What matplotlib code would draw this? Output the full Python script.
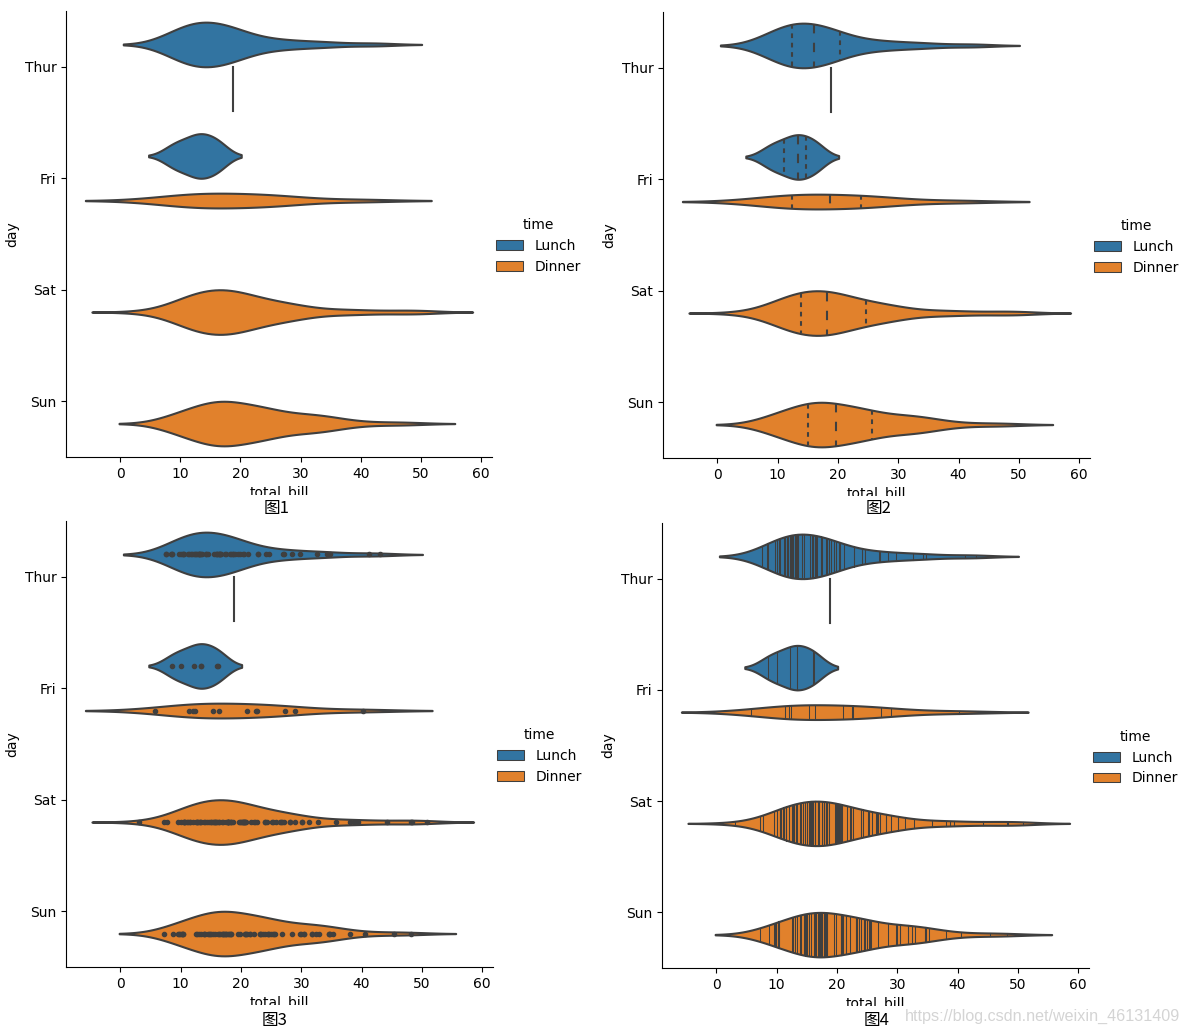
import numpy as np
import matplotlib
matplotlib.use("Agg")
import matplotlib.pyplot as plt
from matplotlib.patches import Rectangle
import colorsys

# ---------------- data (tips: total_bill by day / time) ----------------
days = ["Thur", "Fri", "Sat", "Sun"]
times = ["Lunch", "Dinner"]

thur_lunch = [27.20, 22.76, 17.29, 19.44, 16.66, 10.07, 32.68, 15.98, 34.83, 13.03, 18.28, 24.71, 21.16,
              10.65, 12.43, 24.08, 11.69, 13.42, 14.26, 15.95, 12.48, 29.80, 8.52, 14.52, 11.38, 22.82,
              19.08, 20.27, 11.17, 12.26, 18.26, 8.51, 10.33, 14.15, 16.00, 13.16, 17.47, 34.30, 41.19,
              27.05, 16.43, 8.35, 18.64, 11.87, 9.78, 7.51,
              19.81, 28.44, 15.48, 16.58, 7.56, 10.34, 43.11, 13.00, 13.51, 18.71, 12.74, 13.00, 16.40,
              20.53, 16.47]
thur_dinner = [18.78]
fri_lunch = [12.16, 13.42, 8.58, 15.98, 13.42, 16.27, 10.09]
fri_dinner = [28.97, 22.49, 5.75, 16.32, 22.75, 40.17, 27.28, 12.03, 21.01, 12.46, 11.35, 15.38]
sat_dinner = [20.65, 17.92, 20.29, 15.77, 39.42, 19.82, 17.81, 13.37, 12.69, 21.70, 19.65, 9.55, 18.35,
              15.06, 20.69, 17.78, 24.06, 16.31, 16.93, 18.69, 31.27, 16.04,
              38.01, 26.41, 11.24, 48.27, 20.29, 13.81, 11.02, 18.29, 17.59, 20.08, 16.45, 3.07, 20.23,
              15.01, 12.02, 17.07, 26.86, 25.28, 14.73, 10.51, 17.92,
              44.30, 22.42, 20.92, 15.36, 20.49, 25.21, 18.24, 14.31, 14.00, 7.25,
              10.59, 10.63, 50.81, 15.81,
              26.59, 38.73, 24.27, 12.76, 30.06, 25.89, 48.33, 13.27, 28.17, 12.90, 28.15, 11.59, 7.74,
              30.14,
              20.45, 13.28, 22.12, 24.01, 15.69, 11.61, 10.77, 15.53, 10.07, 12.60, 32.83, 35.83, 29.03,
              27.18, 22.67, 17.82]
sun_dinner = [16.99, 10.34, 21.01, 23.68, 24.59, 25.29, 8.77, 26.88, 15.04, 14.78, 10.27, 35.26, 15.42,
              18.43, 14.83, 21.58, 10.33, 16.29, 16.97,
              17.46, 13.94, 9.68, 30.40, 18.29, 22.23, 32.40, 28.55, 18.04, 12.54, 10.29, 34.81, 9.94,
              25.56, 19.49,
              38.07, 23.95, 25.71, 17.31, 29.93,
              14.07, 13.13, 17.26, 24.55, 19.77, 29.85, 48.17, 25.00, 13.39, 16.49, 21.50, 12.66, 16.21,
              13.81, 17.51, 24.52, 20.76, 31.71,
              7.25, 31.85, 16.82, 32.90, 17.89, 14.48, 9.60, 34.63, 34.65, 23.33, 45.35, 23.17, 40.55,
              20.69, 20.90, 30.46, 18.15, 23.10, 15.69]

groups = {
    "Thur": {"Lunch": thur_lunch, "Dinner": thur_dinner},
    "Fri": {"Lunch": fri_lunch, "Dinner": fri_dinner},
    "Sat": {"Lunch": [], "Dinner": sat_dinner},
    "Sun": {"Lunch": [], "Dinner": sun_dinner},
}
inner_modes = [None, "quartile", "point", "stick"]
captions = ["图1", "图2", "图3", "图4"]

# ---------------- style ----------------
def desat(c, prop=0.75):
    r, g, b = matplotlib.colors.to_rgb(c)
    h, l, s = colorsys.rgb_to_hls(r, g, b)
    return colorsys.hls_to_rgb(h, l, s * prop)

colors = [desat("#1f77b4"), desat("#ff7f0e")]
lum = min(colorsys.rgb_to_hls(*c)[1] for c in colors)
gray = matplotlib.colors.rgb2hex((lum * 0.6,) * 3)
LW = 1.5
DW = 0.2
offsets = [-0.2, 0.2]


def kde(data, gridsize=100, cut=2):
    x = np.asarray(data, float)
    n = len(x)
    h = x.std(ddof=1) * n ** (-0.2)
    sup = np.linspace(x.min() - cut * h, x.max() + cut * h, gridsize)
    dens = np.exp(-0.5 * ((sup[:, None] - x[None, :]) / h) ** 2).sum(1) / (n * h * np.sqrt(2 * np.pi))
    return sup, dens


def draw_to_density(ax, center, val, sup, dens, **kw):
    idx = np.argmin(np.abs(sup - val))
    w = DW * dens[idx] * 0.99
    ax.plot([val, val], [center - w, center + w], color=gray, **kw)


def violin(ax, inner):
    for i, day in enumerate(days):
        est = {}
        for t in times:
            d = groups[day][t]
            if len(d) > 1:
                est[t] = kde(d)
        mx = max(v[1].max() for v in est.values())
        for j, t in enumerate(times):
            d = groups[day][t]
            if len(d) == 0:
                continue
            c = i + offsets[j]
            if len(d) == 1:
                ax.plot([d[0], d[0]], [c - DW, c + DW], color=gray, linewidth=LW)
                continue
            sup, dens = est[t]
            dens = dens / mx
            ax.fill_between(sup, c - dens * DW, c + dens * DW, facecolor=colors[j],
                            edgecolor=gray, linewidth=LW)
            arr = np.asarray(d)
            if inner == "quartile":
                q25, q50, q75 = np.percentile(arr, [25, 50, 75])
                draw_to_density(ax, c, q25, sup, dens, linewidth=LW, dashes=[LW * 1.5] * 2)
                draw_to_density(ax, c, q50, sup, dens, linewidth=LW, dashes=[LW * 3] * 2)
                draw_to_density(ax, c, q75, sup, dens, linewidth=LW, dashes=[LW * 1.5] * 2)
            elif inner == "point":
                ax.scatter(arr, np.ones(len(arr)) * c, s=(LW * 2) ** 2, color=gray, edgecolor=gray)
            elif inner == "stick":
                for v in arr:
                    draw_to_density(ax, c, v, sup, dens, linewidth=LW * 0.5)
    ax.set_yticks(range(len(days)))
    ax.set_yticklabels(days)
    ax.set_ylim(len(days) - 0.5, -0.5)
    ax.set_xticks([0, 10, 20, 30, 40, 50, 60])
    ax.set_xlabel("total_bill")
    ax.set_ylabel("day")
    ax.spines["top"].set_visible(False)
    ax.spines["right"].set_visible(False)
    handles = [Rectangle((0, 0), 0, 0, linewidth=LW / 2, edgecolor=gray, facecolor=colors[k], label=t)
               for k, t in enumerate(times)]
    ax.legend(handles=handles, title="time", frameon=False, loc="center left",
              bbox_to_anchor=(0.979, 0.473))


W, H = 1188, 1033
fig = plt.figure(figsize=(W / 100, H / 100), dpi=100)
boxes = [(66, 11, 492, 457), (663, 12, 1090, 458), (66, 521, 493, 967), (662, 523, 1089, 968)]
cap_pos = [(277, 509), (879, 509), (275, 1020), (877, 1020)]
cut_y = [495, 496, 1005, 1006]
for k in range(4):
    l, t, r, b = boxes[k]
    ax = fig.add_axes([l / W, 1 - b / H, (r - l) / W, (b - t) / H])
    violin(ax, inner_modes[k])
    # white band that clips the lower part of the x label, as in the reference
    x0 = 0 if k % 2 == 0 else 600
    fig.add_artist(Rectangle((x0 / W, 1 - (cut_y[k] + 24) / H), 590 / W, 24 / H,
                             transform=fig.transFigure, facecolor="white", edgecolor="none",
                             zorder=5))
    cx, cy = cap_pos[k]
    fig.text(cx / W, 1 - cy / H, captions[k], ha="center", va="center", fontsize=12,
             family=["Noto Sans CJK SC", "DejaVu Sans"], zorder=6)

fig.text(1180 / W, 1 - 1016 / H, "https://blog.csdn.net/weixin_46131409", ha="right", va="center",
         fontsize=11.6, color="#d4d4d4", family=["Liberation Sans", "DejaVu Sans"], zorder=6)

fig.savefig("out.png", dpi=100)
